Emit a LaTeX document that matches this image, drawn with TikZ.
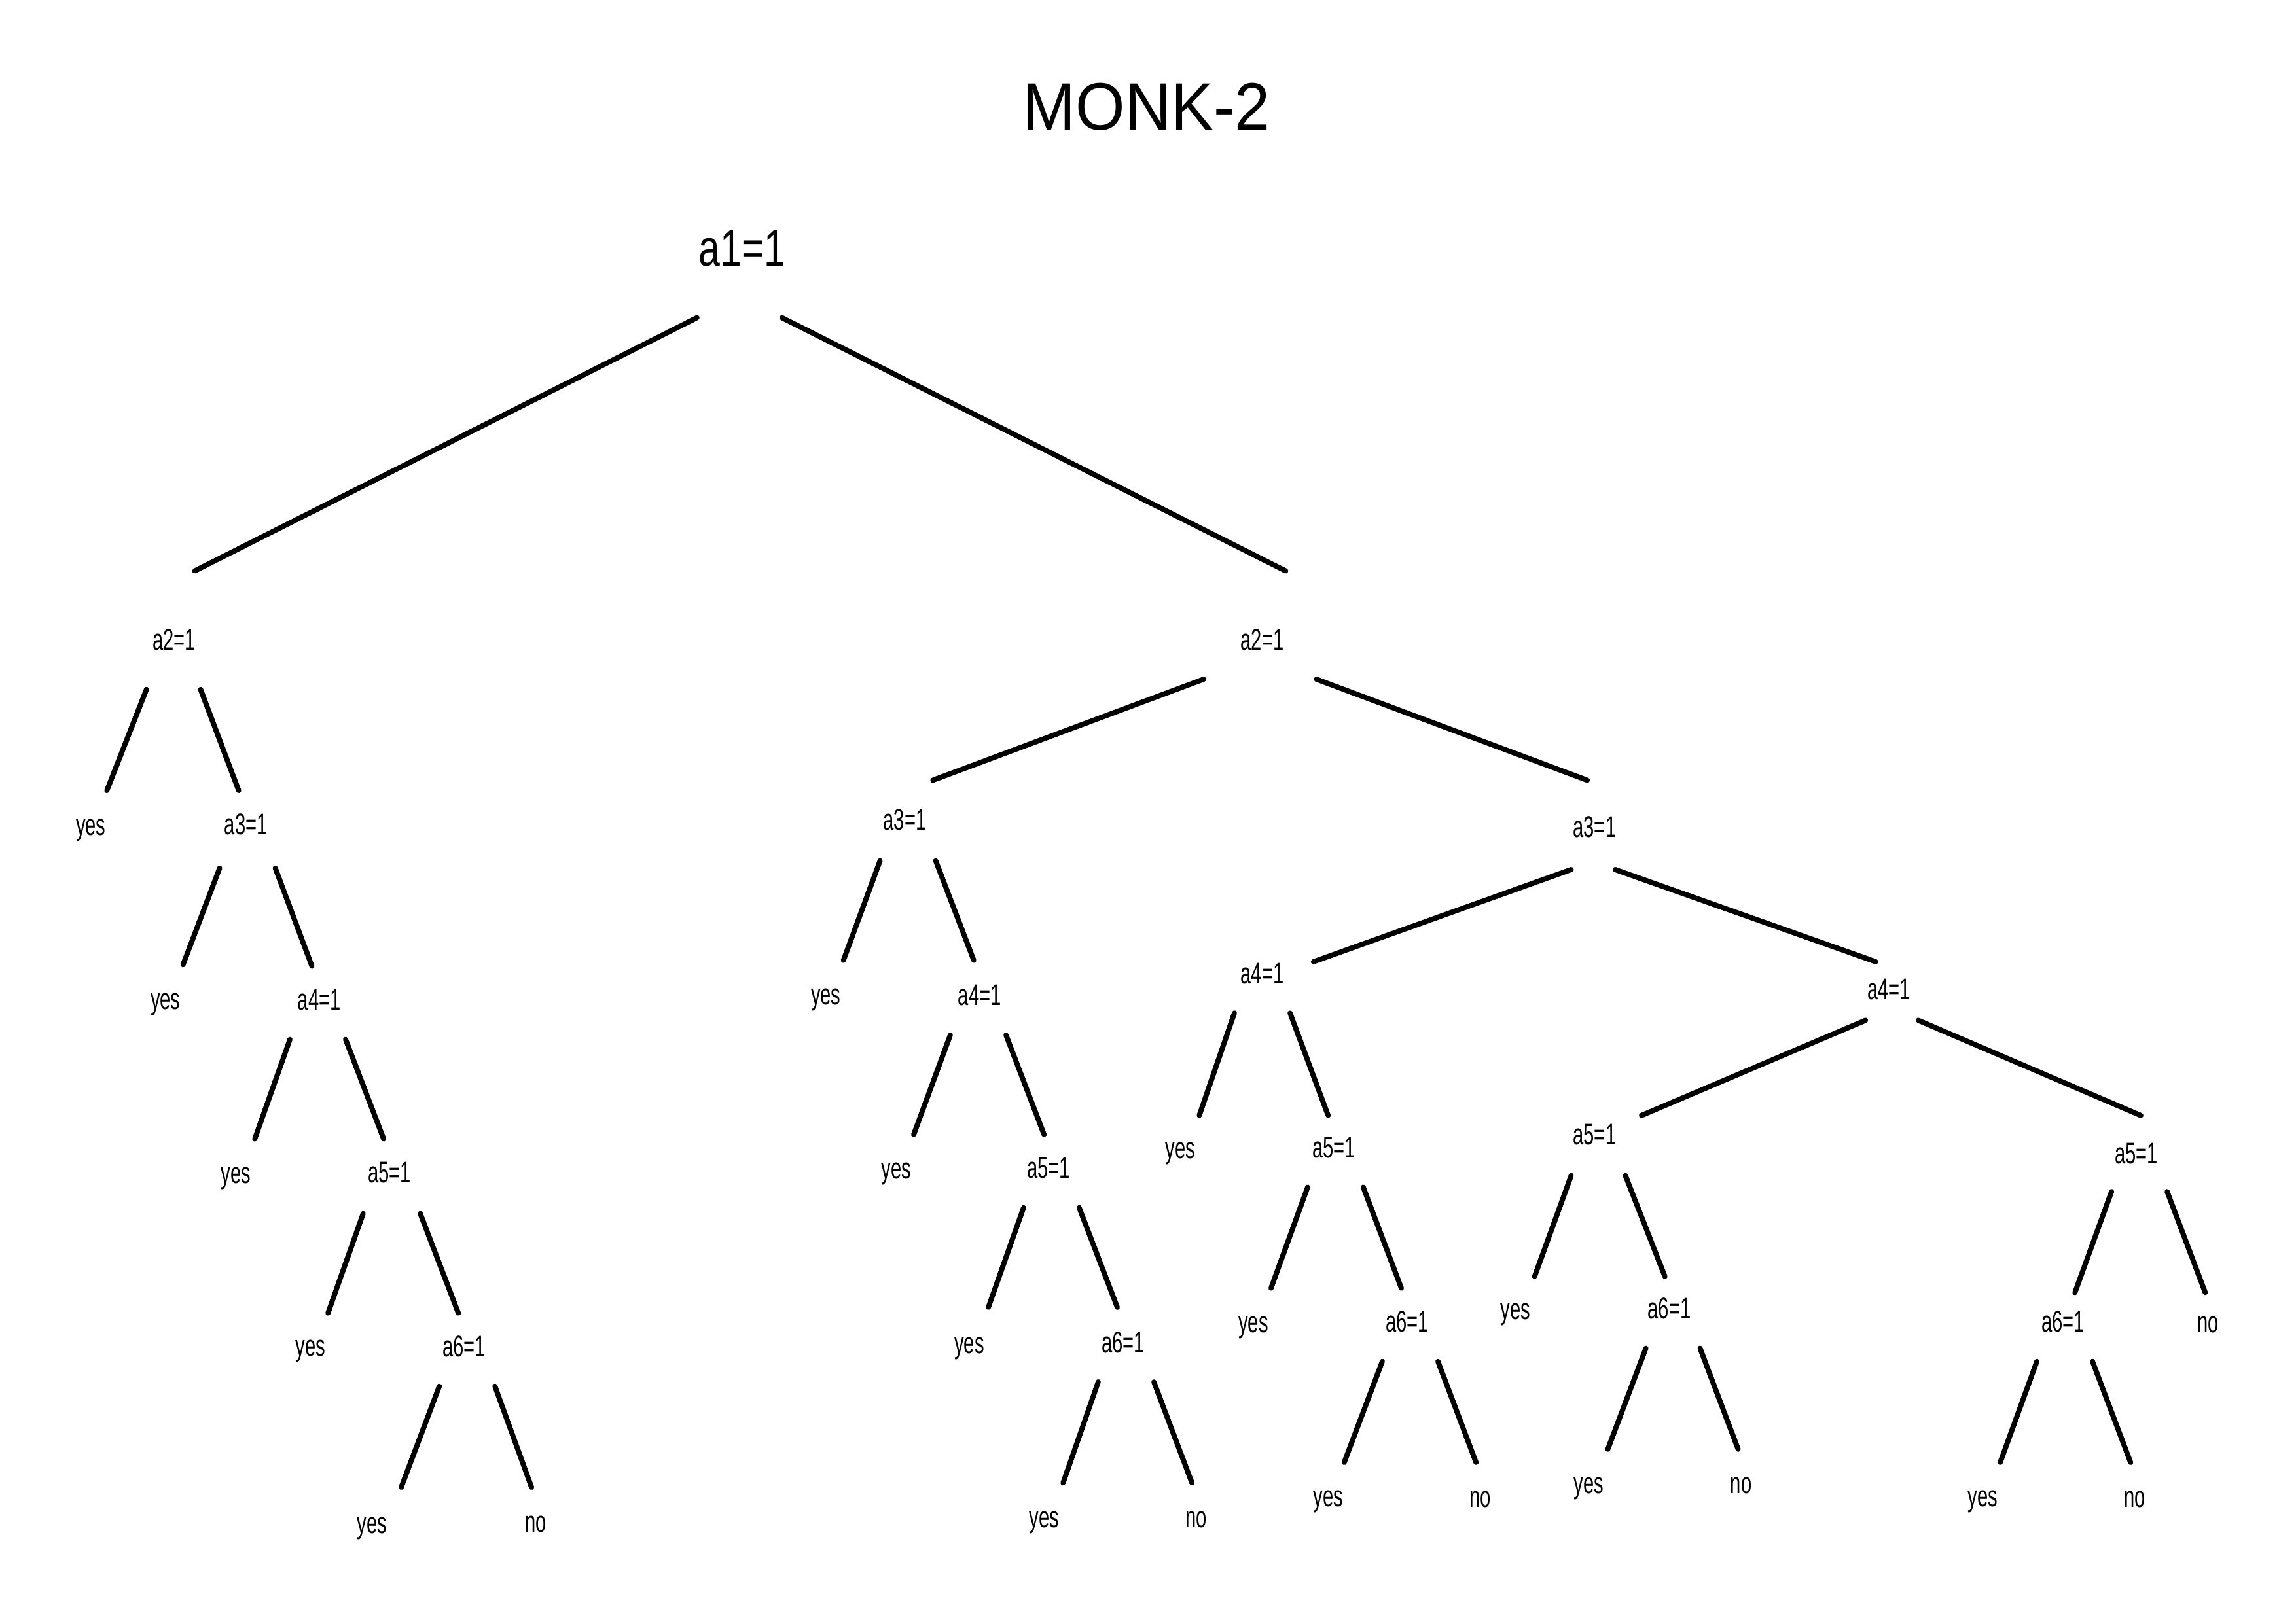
\documentclass[tikz,border=0pt]{standalone}
\usepackage{fontspec}
\usepackage{tikz}
\usetikzlibrary{calc}
\setmainfont{Liberation Sans}
\newfontfamily\titulofont[FakeStretch=0.95]{Liberation Sans}
\newfontfamily\raizfont[FakeStretch=0.75]{Liberation Sans}
\newfontfamily\rotulofont[FakeStretch=0.64]{Liberation Sans}

\tikzset{
  titulo/.style={font=\titulofont\fontsize{65}{70}\selectfont, inner sep=0pt},
  raiz/.style={font=\raizfont\fontsize{50}{55}\selectfont, inner sep=0pt},
  teste/.style={font=\rotulofont\fontsize{29}{31}\selectfont, inner sep=0pt},
  folha/.style={font=\rotulofont\fontsize{29}{31}\selectfont, inner sep=0pt},
  ramo/.style={line width=5pt, line cap=round}
}

\begin{document}
\begin{tikzpicture}[x=0.5mm, y=-0.5mm]
  \fill[white] (0,0) rectangle (1568,1109);
  \useasboundingbox (0,0) rectangle (1568,1109);

  % Titulo e raiz
  \node[titulo] (tit) at (783,73) {MONK-2};
  \node[raiz] (r) at (507,170) {a1=1};

  % Subarvore esquerda
  \node[teste] (a2l) at (119,437) {a2=1};
  \node[folha] (y1) at (62,567) {yes};
  \node[teste] (a3l) at (168,563) {a3=1};
  \node[folha] (y2) at (113,686) {yes};
  \node[teste] (a4l) at (218,683) {a4=1};
  \node[folha] (y3) at (161,805) {yes};
  \node[teste] (a5l) at (266,801) {a5=1};
  \node[folha] (y4) at (212,923) {yes};
  \node[teste] (a6l) at (317,920) {a6=1};
  \node[folha] (y5) at (254,1044) {yes};
  \node[folha] (n1) at (366,1041) {no};

  % Subarvore direita
  \node[teste] (a2r) at (862,437) {a2=1};
  \node[teste] (a3a) at (618,560) {a3=1};
  \node[folha] (y6) at (564,683) {yes};
  \node[teste] (a4a) at (669,680) {a4=1};
  \node[folha] (y7) at (612,802) {yes};
  \node[teste] (a5a) at (716,798) {a5=1};
  \node[folha] (y8) at (662,921) {yes};
  \node[teste] (a6a) at (767,917) {a6=1};
  \node[folha] (y9) at (713,1040) {yes};
  \node[folha] (n2) at (817,1038) {no};

  \node[teste] (a3b) at (1089,565) {a3=1};
  \node[teste] (a4b) at (862,665) {a4=1};
  \node[folha] (y10) at (806,788) {yes};
  \node[teste] (a5b) at (911,784) {a5=1};
  \node[folha] (y11) at (856,907) {yes};
  \node[teste] (a6b) at (961,903) {a6=1};
  \node[folha] (y12) at (907,1026) {yes};
  \node[folha] (n3) at (1011,1024) {no};

  \node[teste] (a4c) at (1290,676) {a4=1};
  \node[teste] (a5c) at (1089,775) {a5=1};
  \node[folha] (y13) at (1035,898) {yes};
  \node[teste] (a6c) at (1140,894) {a6=1};
  \node[folha] (y14) at (1085,1017) {yes};
  \node[folha] (n4) at (1189,1015) {no};
  \node[teste] (a5d) at (1459,788) {a5=1};
  \node[teste] (a6d) at (1409,903) {a6=1};
  \node[folha] (y15) at (1354,1026) {yes};
  \node[folha] (n5) at (1458,1024) {no};
  \node[folha] (n6) at (1508,905) {no};

  % Ramos
  \draw[ramo] ($(r)+(-31,47)$) -- ($(a2l)+(14,-47)$);
  \draw[ramo] ($(r)+(27,47)$) -- ($(a2r)+(16,-47)$);

  \draw[ramo] ($(a2l)+(-19,34)$) -- ($(y1)+(11,-27)$);
  \draw[ramo] ($(a2l)+(18,34)$) -- ($(a3l)+(-5,-23)$);
  \draw[ramo] ($(a3l)+(-18,30)$) -- ($(y2)+(12,-27)$);
  \draw[ramo] ($(a3l)+(20,30)$) -- ($(a4l)+(-5,-23)$);
  \draw[ramo] ($(a4l)+(-20,27)$) -- ($(y3)+(13,-27)$);
  \draw[ramo] ($(a4l)+(18,27)$) -- ($(a5l)+(-4,-23)$);
  \draw[ramo] ($(a5l)+(-18,28)$) -- ($(y4)+(12,-26)$);
  \draw[ramo] ($(a5l)+(21,28)$) -- ($(a6l)+(-4,-23)$);
  \draw[ramo] ($(a6l)+(-17,27)$) -- ($(y5)+(20,-28)$);
  \draw[ramo] ($(a6l)+(21,27)$) -- ($(n1)+(-3,-25)$);

  \draw[ramo] ($(a2r)+(-40,27)$) -- ($(a3a)+(19,-27)$);
  \draw[ramo] ($(a2r)+(37,27)$) -- ($(a3b)+(-5,-32)$);
  \draw[ramo] ($(a3a)+(-17,28)$) -- ($(y6)+(12,-27)$);
  \draw[ramo] ($(a3a)+(21,28)$) -- ($(a4a)+(-4,-24)$);
  \draw[ramo] ($(a4a)+(-20,27)$) -- ($(y7)+(12,-27)$);
  \draw[ramo] ($(a4a)+(18,27)$) -- ($(a5a)+(-3,-23)$);
  \draw[ramo] ($(a5a)+(-17,27)$) -- ($(y8)+(13,-28)$);
  \draw[ramo] ($(a5a)+(21,27)$) -- ($(a6a)+(-4,-24)$);
  \draw[ramo] ($(a6a)+(-17,27)$) -- ($(y9)+(13,-27)$);
  \draw[ramo] ($(a6a)+(21,27)$) -- ($(n2)+(-3,-25)$);

  \draw[ramo] ($(a3b)+(-16,29)$) -- ($(a4b)+(35,-8)$);
  \draw[ramo] ($(a3b)+(14,29)$) -- ($(a4c)+(-9,-19)$);
  \draw[ramo] ($(a4b)+(-19,27)$) -- ($(y10)+(13,-26)$);
  \draw[ramo] ($(a4b)+(19,27)$) -- ($(a5b)+(-4,-22)$);
  \draw[ramo] ($(a5b)+(-18,27)$) -- ($(y11)+(12,-27)$);
  \draw[ramo] ($(a5b)+(20,27)$) -- ($(a6b)+(-4,-23)$);
  \draw[ramo] ($(a6b)+(-17,27)$) -- ($(y12)+(11,-27)$);
  \draw[ramo] ($(a6b)+(21,27)$) -- ($(n3)+(-3,-25)$);

  \draw[ramo] ($(a4c)+(-16,21)$) -- ($(a5c)+(32,-13)$);
  \draw[ramo] ($(a4c)+(20,21)$) -- ($(a5d)+(3,-26)$);
  \draw[ramo] ($(a5c)+(-16,28)$) -- ($(y13)+(13,-26)$);
  \draw[ramo] ($(a5c)+(21,28)$) -- ($(a6c)+(-3,-22)$);
  \draw[ramo] ($(a6c)+(-16,27)$) -- ($(y14)+(13,-27)$);
  \draw[ramo] ($(a6c)+(21,27)$) -- ($(n4)+(-2,-25)$);
  \draw[ramo] ($(a5d)+(-17,26)$) -- ($(a6d)+(8,-20)$);
  \draw[ramo] ($(a5d)+(21,26)$) -- ($(n6)+(-2,-22)$);
  \draw[ramo] ($(a6d)+(-18,27)$) -- ($(y15)+(12,-27)$);
  \draw[ramo] ($(a6d)+(20,27)$) -- ($(n5)+(-3,-25)$);
\end{tikzpicture}
\end{document}
